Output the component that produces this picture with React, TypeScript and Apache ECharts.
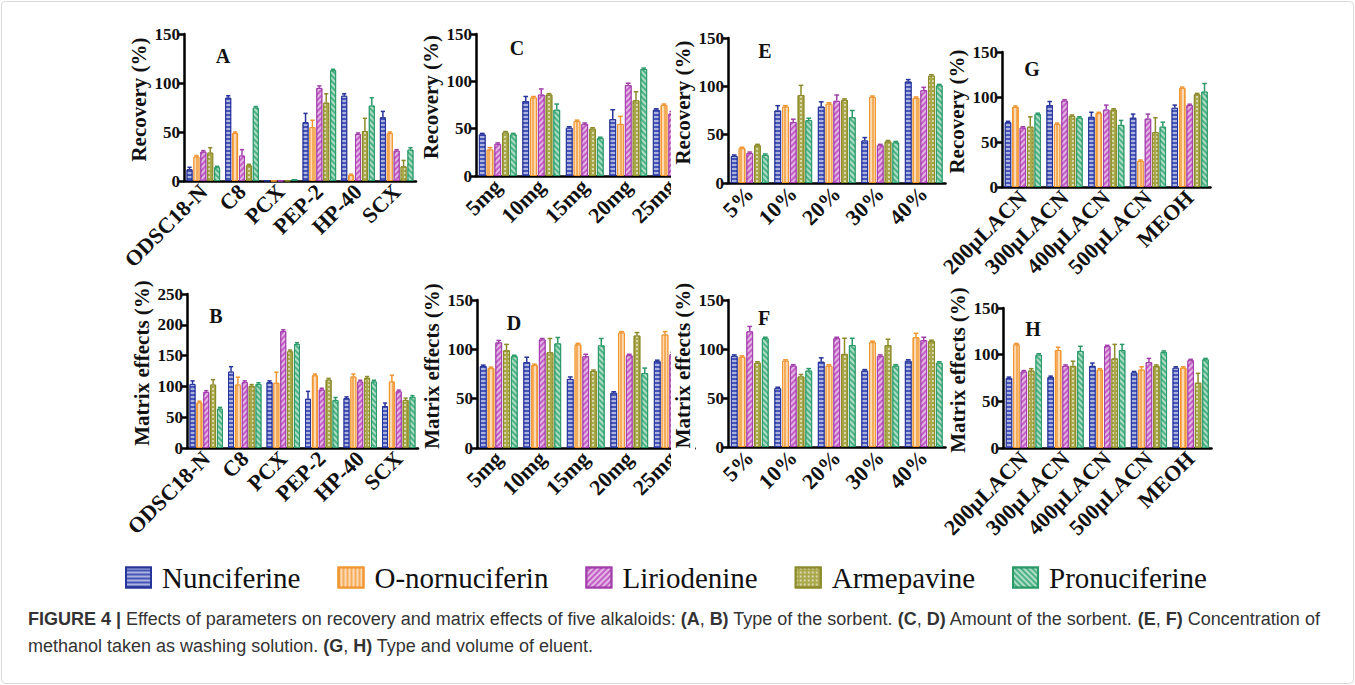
import React, { useEffect, useRef } from 'react';
import * as echarts from 'echarts';

// ---------- data ----------
const seriesNames = ['Nunciferine', 'O-nornuciferin', 'Liriodenine', 'Armepavine', 'Pronuciferine'];
const sorbentTypes = ['ODSC18-N', 'C8', 'PCX', 'PEP-2', 'HP-40', 'SCX'];
const sorbentAmounts = ['5mg', '10mg', '15mg', '20mg', '25mg'];
const methanolConc = ['5%', '10%', '20%', '30%', '40%'];
const eluents = ['200μLACN', '300μLACN', '400μLACN', '500μLACN', 'MEOH'];

// rows = series (Nunciferine, O-nornuciferin, Liriodenine, Armepavine, Pronuciferine)
const recoveryA = [
  [12, 85, 0.5, 60, 87, 65],
  [25, 49, 0.3, 55, 6, 49],
  [30, 26, 0.3, 95, 48, 31],
  [29, 16, 0.5, 80, 51, 15],
  [14, 75, 2, 113, 77, 32],
];
const errorA = [
  [2, 2, 0, 9, 2, 6],
  [1, 1, 0, 7, 1, 1],
  [1, 6, 0, 2, 1, 1],
  [5, 1, 0, 9, 13, 6],
  [1, 1, 0, 1, 8, 2],
];
const matrixB = [
  [104, 124, 107, 80, 81, 68],
  [74, 103, 106, 118, 116, 108],
  [91, 107, 190, 95, 108, 92],
  [103, 101, 157, 111, 114, 78],
  [64, 104, 169, 78, 108, 83],
];
const errorB = [
  [5, 8, 2, 12, 2, 5],
  [2, 12, 17, 2, 4, 10],
  [2, 2, 2, 2, 2, 2],
  [8, 2, 2, 2, 2, 3],
  [2, 2, 2, 4, 2, 2],
];
const recoveryC = [
  [44, 79, 51, 60, 70],
  [28, 83, 58, 55, 75],
  [34, 86, 55, 96, 66],
  [46, 86, 50, 80, 60],
  [44, 70, 40, 113, 55],
];
const errorC = [
  [1, 5, 1, 10, 1],
  [2, 1, 1, 8, 1],
  [1, 6, 1, 2, 2],
  [1, 1, 1, 9, 2],
  [1, 6, 1, 1, 2],
];
const matrixD = [
  [83, 87, 70, 56, 88],
  [81, 84, 105, 117, 115],
  [107, 110, 93, 94, 95],
  [99, 97, 78, 114, 100],
  [93, 106, 104, 76, 90],
];
const errorD = [
  [1, 5, 2, 1, 1],
  [1, 1, 1, 1, 3],
  [2, 1, 2, 1, 2],
  [6, 14, 1, 3, 2],
  [1, 6, 7, 5, 2],
];
const recoveryE = [
  [28, 75, 79, 44, 105],
  [36, 79, 82, 89, 88],
  [31, 63, 85, 39, 96],
  [39, 91, 86, 43, 111],
  [29, 65, 68, 42, 101],
];
const errorE = [
  [1, 5, 5, 3, 2],
  [1, 1, 1, 1, 1],
  [1, 3, 6, 1, 3],
  [1, 10, 1, 1, 1],
  [1, 2, 7, 1, 1],
];
const matrixF = [
  [93, 60, 87, 78, 88],
  [92, 88, 83, 107, 112],
  [118, 83, 111, 93, 109],
  [86, 72, 95, 104, 108],
  [111, 78, 104, 83, 86],
];
const errorF = [
  [1, 1, 4, 1, 1],
  [1, 1, 1, 1, 4],
  [5, 1, 1, 1, 3],
  [1, 2, 16, 6, 1],
  [1, 2, 7, 1, 1],
];
const recoveryG = [
  [72, 91, 78, 77, 88],
  [89, 70, 82, 29, 110],
  [66, 96, 86, 76, 91],
  [67, 79, 86, 61, 103],
  [81, 77, 69, 67, 106],
];
const errorG = [
  [1, 4, 5, 4, 3],
  [1, 1, 1, 1, 1],
  [1, 1, 5, 5, 1],
  [11, 1, 1, 16, 1],
  [1, 1, 5, 5, 9],
];
const matrixH = [
  [75, 76, 88, 81, 86],
  [111, 105, 84, 84, 86],
  [82, 88, 109, 92, 94],
  [83, 88, 96, 88, 70],
  [100, 104, 105, 103, 95],
];
const errorH = [
  [1, 1, 3, 1, 1],
  [1, 3, 1, 3, 1],
  [1, 1, 1, 4, 1],
  [2, 5, 15, 1, 10],
  [1, 5, 6, 1, 1],
];

const recoveryName = 'Recovery (%)';
const matrixName = 'Matrix effects (%)';

// ---------- layout / style ----------
const panels = [
  { letter: 'A', cats: sorbentTypes, vals: recoveryA, errs: errorA, max: 150, name: recoveryName, left: 184, top: 34, width: 232, height: 147, lx: 223, ly: 56, raise: false },
  { letter: 'C', cats: sorbentAmounts, vals: recoveryC, errs: errorC, max: 150, name: recoveryName, left: 476, top: 34, width: 217.5, height: 142, lx: 517, ly: 48, raise: false },
  { letter: 'E', cats: methanolConc, vals: recoveryE, errs: errorE, max: 150, name: recoveryName, left: 728, top: 38, width: 217.5, height: 145, lx: 765, ly: 51, raise: true },
  { letter: 'G', cats: eluents, vals: recoveryG, errs: errorG, max: 150, name: recoveryName, left: 1002, top: 52, width: 208.5, height: 135, lx: 1032, ly: 69, raise: false },
  { letter: 'B', cats: sorbentTypes, vals: matrixB, errs: errorB, max: 250, name: matrixName, left: 187, top: 294, width: 231, height: 154, lx: 216, ly: 316, raise: false },
  { letter: 'D', cats: sorbentAmounts, vals: matrixD, errs: errorD, max: 150, name: matrixName, left: 477, top: 300, width: 217.5, height: 148, lx: 514, ly: 323, raise: false },
  { letter: 'F', cats: methanolConc, vals: matrixF, errs: errorF, max: 150, name: matrixName, left: 728, top: 300, width: 217.5, height: 147, lx: 764, ly: 318, raise: true },
  { letter: 'H', cats: eluents, vals: matrixH, errs: errorH, max: 150, name: matrixName, left: 1003, top: 308, width: 208.5, height: 140, lx: 1033, ly: 329, raise: false },
];

const fills = ['#4656b8', '#f6ad5a', '#c25ec6', '#a9a84a', '#4db385'];
const darks = ['#27349a', '#f09530', '#a23fab', '#8c8a2a', '#2a9a68'];
const decalColor = 'rgba(255,255,255,0.55)';
const decals: any[] = [
  { symbol: 'rect', symbolSize: 1, dashArrayX: [1, 0], dashArrayY: [2, 2], rotation: 0, color: decalColor },
  { symbol: 'rect', symbolSize: 1, dashArrayX: [1, 0], dashArrayY: [2, 2], rotation: Math.PI / 2, color: decalColor },
  { symbol: 'rect', symbolSize: 1, dashArrayX: [1, 0], dashArrayY: [2, 2], rotation: -Math.PI / 4, color: decalColor },
  { symbol: 'rect', symbolSize: 1, dashArrayX: [1.5, 1.5], dashArrayY: [1.5, 1.5], rotation: 0, color: decalColor },
  { symbol: 'rect', symbolSize: 1, dashArrayX: [1, 0], dashArrayY: [2, 2], rotation: Math.PI / 4, color: decalColor },
];

const SERIF = "'Liberation Serif', 'Times New Roman', serif";
const SANS = "'Liberation Sans', Arial, sans-serif";
const BAR_W = 0.155;
const BAR_GAP = 0.15;

function buildOption() {
  const grid: any[] = [];
  const xAxis: any[] = [];
  const yAxis: any[] = [];
  const series: any[] = [];
  const graphics: any[] = [];

  panels.forEach((p, pi) => {
    grid.push({ left: p.left, top: p.top, width: p.width, height: p.height });
    xAxis.push({
      type: 'category',
      gridIndex: pi,
      data: p.cats,
      axisLine: { lineStyle: { color: '#000', width: 2.5 } },
      axisTick: { alignWithLabel: true, length: 5, lineStyle: { color: '#000', width: 2.5 } },
      axisLabel: { rotate: 45, interval: 0, margin: 7, color: '#111', fontFamily: SERIF, fontWeight: 'bold', fontSize: 22 },
      splitLine: { show: false },
    });
    yAxis.push({
      type: 'value',
      gridIndex: pi,
      min: 0,
      max: p.max,
      interval: 50,
      z: p.raise ? 10 : 0,
      name: p.name,
      nameLocation: 'middle',
      nameGap: 35,
      nameTextStyle: { fontFamily: SERIF, fontWeight: 'bold', fontSize: 21, color: '#111', padding: [0, 0, 0, 16] },
      axisLine: { show: true, lineStyle: { color: '#000', width: 2.5 } },
      axisTick: { show: true, length: 5, lineStyle: { color: '#000', width: 2.5 } },
      axisLabel: { margin: 4, color: '#111', fontFamily: SERIF, fontWeight: 'bold', fontSize: 17 },
      splitLine: { show: false },
    });
    p.vals.forEach((row, si) => {
      series.push({
        type: 'bar',
        name: seriesNames[si],
        xAxisIndex: pi,
        yAxisIndex: pi,
        data: row,
        barWidth: BAR_W * 100 + '%',
        barGap: BAR_GAP * 100 + '%',
        itemStyle: { color: fills[si], borderColor: darks[si], borderWidth: 1, decal: decals[si] },
        emphasis: { disabled: true },
      });
    });
    const errData: number[][] = [];
    p.vals.forEach((row, si) => {
      row.forEach((v, ci) => {
        const e = p.errs[si][ci];
        if (e > 0) errData.push([ci, si, v, e]);
      });
    });
    series.push({
      type: 'custom',
      xAxisIndex: pi,
      yAxisIndex: pi,
      encode: { x: 0, y: 2 },
      data: errData,
      silent: true,
      renderItem: (params: any, api: any) => {
        const c = api.value(0);
        const s = api.value(1);
        const v = api.value(2);
        const e = api.value(3);
        const band = api.size([1, 0])[0];
        const w = band * BAR_W;
        const total = 5 * w + 4 * w * BAR_GAP;
        const base = api.coord([c, v]);
        const x = base[0] - total / 2 + s * w * (1 + BAR_GAP) + w / 2;
        const yTop = api.coord([c, v + e])[1];
        const cap = w * 0.35;
        return {
          type: 'group',
          children: [
            { type: 'line', shape: { x1: x, y1: base[1], x2: x, y2: yTop }, style: { stroke: darks[s], lineWidth: 1.5 } },
            { type: 'line', shape: { x1: x - cap, y1: yTop, x2: x + cap, y2: yTop }, style: { stroke: darks[s], lineWidth: 1.5 } },
          ],
        };
      },
    });
    graphics.push({
      type: 'text',
      x: p.lx,
      y: p.ly,
      z: 10,
      style: { text: p.letter, fill: '#111', font: `bold 20px ${SERIF}`, textAlign: 'center', textVerticalAlign: 'middle' },
    });
  });

  // cropped last groups of panels C and D (overlapped by neighbouring panels)
  graphics.push({ type: 'rect', z: 5, shape: { x: 671, y: 18, width: 24, height: 245 }, style: { fill: '#fff' } });
  graphics.push({ type: 'rect', z: 5, shape: { x: 671, y: 285, width: 24, height: 255 }, style: { fill: '#fff' } });

  // frame
  graphics.push({ type: 'rect', z: 0, shape: { x: 1.5, y: 1.5, width: 1352, height: 682, r: 4 }, style: { fill: 'none', stroke: '#d9d9d9', lineWidth: 1 } });

  // caption
  const rich = {
    b: { fontFamily: SANS, fontWeight: 'bold', fontSize: 18, color: '#222' },
    n: { fontFamily: SANS, fontSize: 18, color: '#333' },
  };
  graphics.push({
    type: 'text',
    x: 28,
    y: 619,
    z: 10,
    style: {
      text: '{b|FIGURE 4 |}{n| Effects of parameters on recovery and matrix effects of five alkaloids: }{b|(A}{n|, }{b|B)}{n| Type of the sorbent. }{b|(C}{n|, }{b|D)}{n| Amount of the sorbent. }{b|(E}{n|, }{b|F)}{n| Concentration of}',
      rich,
      font: `18px ${SANS}`,
      fill: '#333',
      textVerticalAlign: 'middle',
    },
  });
  graphics.push({
    type: 'text',
    x: 28,
    y: 646,
    z: 10,
    style: {
      text: '{n|methanol taken as washing solution. }{b|(G}{n|, }{b|H)}{n| Type and volume of eluent.}',
      rich,
      font: `18px ${SANS}`,
      fill: '#333',
      textVerticalAlign: 'middle',
    },
  });

  return {
    animation: false,
    backgroundColor: '#fff',
    grid,
    xAxis,
    yAxis,
    series,
    legend: {
      data: seriesNames,
      left: 120,
      top: 558,
      icon: 'rect',
      itemWidth: 25,
      itemHeight: 20,
      itemGap: 37,
      selectedMode: false,
      textStyle: { fontFamily: SERIF, fontSize: 29, color: '#111', padding: [0, 0, 0, 6] },
    },
    graphic: { elements: graphics },
  };
}

export default function App() {
  const ref = useRef<HTMLDivElement>(null);
  useEffect(() => {
    document.body.style.margin = '0';
    if (!ref.current) return;
    const chart = echarts.init(ref.current, undefined, { renderer: 'svg' });
    chart.setOption(buildOption() as any);
    return () => chart.dispose();
  }, []);
  return <div ref={ref} style={{ width: 1355, height: 685 }} />;
}
